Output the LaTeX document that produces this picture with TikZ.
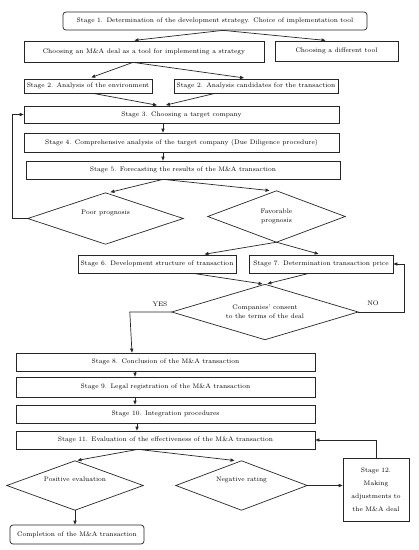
\documentclass[tikz,border=0pt]{standalone}
\usetikzlibrary{arrows.meta,calc}
\begin{document}
\begin{tikzpicture}[x=1pt,y=-1pt,
  font=\fontsize{6.6}{9.3}\selectfont,
  box/.style={draw=black!85, line width=0.7pt, rectangle, inner sep=0pt, align=center},
  dia/.style={rectangle, inner sep=0pt, align=center},
  dline/.style={draw=black!85, line width=0.7pt, line join=miter},
  arr/.style={draw=black!85, line width=0.7pt, -{Triangle[length=4pt,width=3.2pt]}},
  gap/.style={shorten >=2.5pt}]
\useasboundingbox (0,0) rectangle (419,550);

\node[box, rounded corners=3pt, minimum width=304pt, minimum height=18pt] (s1) at (215,21) {Stage 1. Determination of the development strategy. Choice of implementation tool};
\node[box, minimum width=240pt, minimum height=21pt] (deal) at (144,51.5) {Choosing an M\&A deal as a tool for implementing a strategy};
\node[box, minimum width=123pt, minimum height=20pt] (diff) at (336.5,51) {Choosing a different tool};
\node[box, minimum width=128pt, minimum height=14pt] (s2a) at (88,86) {Stage 2. Analysis of the environment};
\node[box, minimum width=164pt, minimum height=14pt] (s2b) at (256,86) {Stage 2. Analysis candidates for the transaction};
\node[box, minimum width=315pt, minimum height=17pt] (s3) at (181.5,114.5) {Stage 3. Choosing a target company};
\node[box, minimum width=315pt, minimum height=19pt] (s4) at (181.5,142.5) {Stage 4. Comprehensive analysis of the target company (Due Diligence procedure)};
\node[box, minimum width=314pt, minimum height=18pt] (s5) at (183,170) {Stage 5. Forecasting the results of the M\&A transaction};
\node[dia, minimum width=155pt, minimum height=51pt] (poor) at (105.5,218.5) {Poor prognosis\\[3pt]};
\node[dia, minimum width=137pt, minimum height=51pt] (fav) at (276.5,216.5) {Favorable\\prognosis};
\node[box, minimum width=158pt, minimum height=18pt] (s6) at (157,264) {Stage 6. Development structure of transaction};
\node[box, minimum width=144pt, minimum height=18pt] (s7) at (321,264) {Stage 7. Determination transaction price};
\node[dia, minimum width=186pt, minimum height=55pt] (cons) at (265,312) {Companies' consent\\to the terms of the deal};
\node[box, minimum width=299pt, minimum height=18pt] (s8) at (165.5,362) {Stage 8. Conclusion of the M\&A transaction};
\node[box, minimum width=299pt, minimum height=20pt] (s9) at (165.5,387) {Stage 9. Legal registration of the M\&A transaction};
\node[box, minimum width=299pt, minimum height=18pt] (s10) at (165.5,414) {Stage 10. Integration procedures};
\node[box, minimum width=299pt, minimum height=18pt] (s11) at (165.5,440) {Stage 11. Evaluation of the effectiveness of the M\&A transaction};
\node[dia, minimum width=136pt, minimum height=49pt] (pos) at (75,485.5) {Positive evaluation\\[3pt]};
\node[dia, minimum width=131pt, minimum height=49pt] (neg) at (241.5,485.5) {Negative rating\\[3pt]};
\node[box, minimum width=66pt, minimum height=63pt, font=\fontsize{6.6}{13}\selectfont] (s12) at (376,489.5) {Stage 12.\\Making\\adjustments to\\the M\&A deal};
\node[box, rounded corners=3pt, minimum width=134pt, minimum height=19pt] (comp) at (77,534.5) {Completion of the M\&A transaction};

\foreach \d in {poor,fav,cons,pos,neg}
  \draw[dline] (\d.north) -- (\d.east) -- (\d.south) -- (\d.west) -- cycle;

\node (yes) at (160,304) {YES};
\node (no) at (373,303) {NO};

% connectors
\draw[arr,gap] ([xshift=8pt]s1.south) -- ([xshift=-12pt]deal.north);
\draw[arr,gap] ([xshift=8pt]s1.south) -- ([xshift=-8.5pt]diff.north);
\draw[arr,shorten >=3.5pt] ([xshift=-11pt]deal.south) -- (s2a.north);
\draw[arr,shorten >=5pt] ([xshift=-11pt]deal.south) -- ([xshift=-7pt]s2b.north);
\draw[arr,gap] ([xshift=5pt]s2a.south) -- ([xshift=-22pt]s3.north);
\draw[arr,gap] ([xshift=-41pt]s2b.south) -- ([xshift=-18pt]s3.north);
\draw[arr] ([xshift=-18.5pt]s3.south) -- ([xshift=-18.5pt]s4.north);
\draw[arr] ([xshift=-18.5pt]s4.south) -- ([xshift=-18.5pt]s4.south|-s5.north);
\draw[arr,gap] ([xshift=-20pt]s5.south) -- ([xshift=2.5pt]poor.north);
\draw[arr,gap] ([xshift=-20pt]s5.south) -- ([xshift=-4.5pt]fav.north);
\draw[arr] (poor.west) -- ++(-15,0) |- (s3.west);
\draw[arr,gap] (fav.south) -- ([xshift=45pt]s6.north);
\draw[arr,gap] (fav.south) -- (s7.north);
\draw[arr,gap] ([xshift=36pt]s6.south) -- (cons.north);
\draw[arr,gap] ([xshift=-12pt]s7.south) -- (cons.north);
\draw[arr] (cons.west) -- ++(-42,0) -- ([xshift=-33.5pt]s8.north);
\draw[arr] (cons.east) -- ++(46,0) |- (s7.east);
\draw[arr] ([xshift=-30.5pt]s8.south) -- ([xshift=-30.5pt]s9.north);
\draw[arr] ([xshift=-30.5pt]s9.south) -- ([xshift=-30.5pt]s10.north);
\draw[arr] ([xshift=-28.5pt]s10.south) -- ([xshift=-28.5pt]s11.north);
\draw[arr,gap] ([xshift=-27.5pt]s11.south) -- (pos.north);
\draw[arr,gap] ([xshift=-27.5pt]s11.south) -- ([xshift=-4.5pt]neg.north);
\draw[arr] (neg.east) -- (s12.west|-neg.east);
\draw[arr] (s12.north) |- (s11.east);
\draw[arr] (pos.south) -- (pos.south|-comp.north);
\end{tikzpicture}
\end{document}
